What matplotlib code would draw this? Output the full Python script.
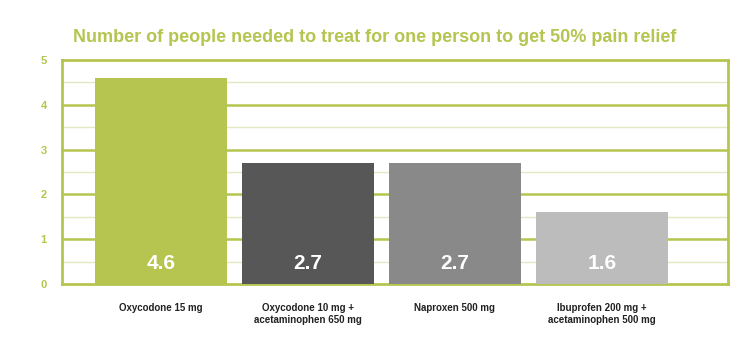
import matplotlib
matplotlib.use("Agg")
import matplotlib.pyplot as plt
from matplotlib import font_manager
import matplotlib.patheffects as pe
import numpy as np

categories = ["Oxycodone 15 mg", "Oxycodone 10 mg +\nacetaminophen 650 mg",
              "Naproxen 500 mg", "Ibuprofen 200 mg +\nacetaminophen 500 mg"]
values = [4.6, 2.7, 2.7, 1.6]
value_labels = ["4.6", "2.7", "2.7", "1.6"]
yticks = [0, 1, 2, 3, 4, 5]
title = "Number of people needed to treat for one person to get 50% pain relief"

colors = ["#b5c54f", "#575757", "#898989", "#bcbcbc"]
green = "#b5c54f"

names = {f.name for f in font_manager.fontManager.ttflist}
cond = "Liberation Sans Narrow" if "Liberation Sans Narrow" in names else "Liberation Sans"
plt.rcParams['font.family'] = [cond, 'DejaVu Sans']

fig = plt.figure(figsize=(7.5, 3.5), dpi=100)
ax = fig.add_axes([62/750, 1-284/350, (728-62)/750, (284-60)/350])

x = np.arange(len(values))
bars = ax.bar(x, values, width=0.9, color=colors, zorder=3)
for b in bars:
    b.set_path_effects([pe.SimplePatchShadow(offset=(0, 0), shadow_rgbFace="#000000", alpha=0.15), pe.Normal()])

for xi, lab in zip(x, value_labels):
    ax.text(xi, 0.45, lab, ha="center", va="center", color="white",
            fontsize=15, fontweight="bold", zorder=4)

ax.set_xlim(-0.673, 3.857)
ax.set_ylim(0, 5)
ax.set_yticks(yticks)
ax.set_yticklabels([str(t) for t in yticks], color=green, fontsize=8, fontweight="bold")
ax.tick_params(axis="y", length=0, pad=11)
ax.set_xticks(x)
ax.set_xticklabels(categories, fontsize=7, fontweight="bold", color="#222222", linespacing=1.15)
ax.tick_params(axis="x", length=0, pad=14)

for t in yticks[1:-1]:
    ax.axhline(t, color=green, lw=1.8, zorder=1)
for t in np.arange(0.5, 5, 1.0):
    ax.axhline(t, color="#e3eac2", lw=1, zorder=1)

for s in ax.spines.values():
    s.set_color(green)
    s.set_linewidth(2)

fig.text(0.5, 1-37/350, title, ha="center", va="center", color=green,
         fontsize=13, fontweight="bold")

fig.savefig("out.png", dpi=100)
